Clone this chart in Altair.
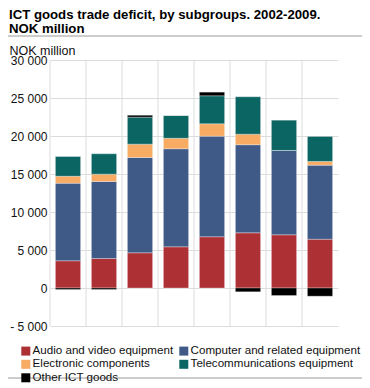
import altair as alt
import pandas as pd

years = ["2002", "2003", "2004", "2005", "2006", "2007", "2008", "2009"]
groups = ["Audio and video equipment", "Computer and related equipment",
          "Electronic components", "Telecommunications equipment", "Other ICT goods"]
colors = ["#ad3034", "#3f5a87", "#f7ab63", "#0b6663", "#000000"]
# legend is filled column by column: this order gives the reference's 2-column layout
legend_order = [0, 2, 4, 1, 3]

audio = [3580, 3880, 4630, 5420, 6740, 7260, 7000, 6420]
computer = [10210, 10130, 12540, 12900, 13240, 11590, 11100, 9740]
electronic = [920, 970, 1760, 1390, 1630, 1390, 0, 490]
telecom = [2590, 2680, 3550, 2990, 3680, 4920, 3980, 3290]
other = [-200, -200, 260, 0, 480, -500, -990, -1080]

y_ticks = [-5000, 0, 5000, 10000, 15000, 20000, 25000, 30000]

series = [audio, computer, electronic, telecom, other]
rows = []
for gi, (g, vals) in enumerate(zip(groups, series)):
    for yr, v in zip(years, vals):
        rows.append({"year": yr, "group": g, "idx": gi, "value": v})
df = pd.DataFrame(rows)
years_df = pd.DataFrame({"year": years})

FONT = "Liberation Sans"

x_scale = alt.Scale(domain=years, paddingInner=0, paddingOuter=0)

bars = alt.Chart(df).mark_bar(
    width=alt.RelativeBandSize(0.7), stroke="white", strokeWidth=0.6, strokeOpacity=0.5
).encode(
    x=alt.X("year:N", scale=x_scale, sort=years,
            axis=alt.Axis(title=None, labelAngle=0, domain=False, ticks=False, grid=False,
                          bandPosition=0.5,
                          labelPadding=3, labelFontSize=12, labelFont=FONT, labelColor="#111")),
    y=alt.Y("value:Q", stack="zero",
            scale=alt.Scale(domain=[-5000, 30000], nice=False),
            axis=alt.Axis(values=y_ticks, domain=False, ticks=False, grid=True,
                          gridColor="#dcdcdc", labelPadding=3, labelFontSize=12,
                          labelFont=FONT, labelColor="#111",
                          labelExpr="datum.value < 0 ? '- ' + replace(format(-datum.value, ','), ',', ' ') : replace(format(datum.value, ','), ',', ' ')",
                          title="NOK million", titleAngle=0, titleAlign="left",
                          titleBaseline="alphabetic", titleX=-41, titleY=-5.5,
                          titleFontSize=12.5, titleFontWeight="normal", titleFont=FONT,
                          titleColor="#111")),
    color=alt.Color("group:N",
                    scale=alt.Scale(domain=[groups[i] for i in legend_order],
                                    range=[colors[i] for i in legend_order]),
                    legend=alt.Legend(title=None, orient="none", legendX=-30, legendY=285,
                                      columns=2, symbolType="square", symbolSize=81,
                                      symbolStrokeWidth=0, labelFontSize=11.6, labelFont=FONT,
                                      labelColor="#111", labelOffset=1, columnPadding=4,
                                      rowPadding=0.5, padding=0, labelLimit=300)),
    order=alt.Order("idx:Q"),
)

vgrid = alt.Chart(years_df).mark_rule(color="#dcdcdc", strokeWidth=1).encode(
    x=alt.X("year:N", scale=x_scale, sort=years, bandPosition=0, axis=None),
    y=alt.value(0), y2=alt.value(266),
)

blank = alt.Data(values=[{"a": 1}])
top_line = alt.Chart(blank).mark_rule(color="#9a9a9a", strokeWidth=1).encode(
    x=alt.value(-42), x2=alt.value(312), y=alt.value(-24))
bottom_line = alt.Chart(blank).mark_rule(color="#9a9a9a", strokeWidth=1).encode(
    x=alt.value(-42), x2=alt.value(312), y=alt.value(318))

chart = alt.layer(vgrid, bars, top_line, bottom_line).properties(
    width=288, height=266,
    autosize=alt.AutoSizeParams(type="none"),
    padding={"left": 42, "top": 52, "right": 24, "bottom": 62},
    title=alt.TitleParams(
        text=["ICT goods trade deficit, by subgroups. 2002-2009.", "NOK million"],
        anchor="start", frame="group", orient="top", fontSize=13.2, fontWeight="bold",
        font=FONT, color="#000", lineHeight=14, baseline="top", offset=-0.5, dx=-41),
).configure_view(strokeWidth=0)

chart.save("out.html", embed_options={"renderer": "svg", "actions": False})
